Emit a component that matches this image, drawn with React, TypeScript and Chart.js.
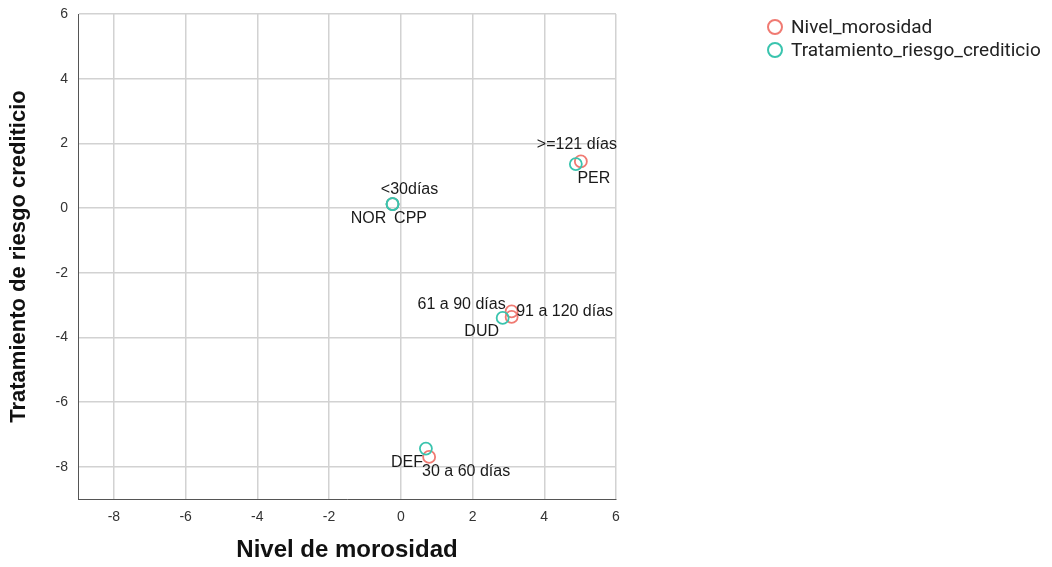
import React, { useEffect, useRef } from 'react';
import { Chart, registerables } from 'chart.js';

Chart.register(...registerables);

// ---- data ----
const seriesNames = ['Nivel_morosidad', 'Tratamiento_riesgo_crediticio'];

const nivelCategories = ['<30días', '30 a 60 días', '61 a 90 días', '91 a 120 días', '>=121 días'];
const nivelX = [-0.23, 0.79, 3.09, 3.09, 5.02];
const nivelY = [0.12, -7.7, -3.2, -3.37, 1.44];

const tratCategories = ['NOR', 'CPP', 'DEF', 'DUD', 'PER'];
const tratX = [-0.23, -0.23, 0.7, 2.84, 4.88];
const tratY = [0.12, 0.12, -7.44, -3.4, 1.36];

const xTicks = [-8, -6, -4, -2, 0, 2, 4, 6];
const yTicks = [-8, -6, -4, -2, 0, 2, 4, 6];

// ---- label layout (pixel offsets from each point) ----
const nivelLabelOffsets = [
  [17, -15],
  [37, 15],
  [-50, -7],
  [53, -5],
  [-4, -17],
];
const tratLabelOffsets = [
  [-24, 14],
  [18, 14],
  [-19, 14],
  [-21, 14],
  [18, 15],
];

const RED = 'rgb(240,122,114)';
const TEAL = 'rgb(58,196,174)';

const pointLabelPlugin = {
  id: 'pointLabels',
  afterDatasetsDraw(chart: any) {
    const ctx = chart.ctx;
    ctx.save();
    ctx.font = '16px "Liberation Sans", Arial, sans-serif';
    ctx.fillStyle = '#1a1a1a';
    ctx.textAlign = 'center';
    ctx.textBaseline = 'middle';
    const sets = [
      { labels: nivelCategories, offs: nivelLabelOffsets },
      { labels: tratCategories, offs: tratLabelOffsets },
    ];
    sets.forEach((s, di) => {
      const meta = chart.getDatasetMeta(di);
      meta.data.forEach((el: any, i: number) => {
        const [dx, dy] = s.offs[i];
        ctx.fillText(s.labels[i], el.x + dx, el.y + dy);
      });
    });
    ctx.restore();
  },
};

const customLegendPlugin = {
  id: 'customLegend',
  afterDraw(chart: any) {
    const ctx = chart.ctx;
    ctx.save();
    const colors = [RED, TEAL];
    const x0 = chart.chartArea.right + 159;
    seriesNames.forEach((name, i) => {
      const y = 27 + i * 23;
      ctx.beginPath();
      ctx.arc(x0, y, 7, 0, Math.PI * 2);
      ctx.strokeStyle = colors[i];
      ctx.lineWidth = 2;
      ctx.stroke();
      ctx.font = '19px Roboto, "Liberation Sans", sans-serif';
      ctx.fillStyle = '#222';
      ctx.textAlign = 'left';
      ctx.textBaseline = 'middle';
      ctx.fillText(name, x0 + 16, y + 1);
    });
    ctx.restore();
  },
};

export default function App() {
  const ref = useRef<HTMLCanvasElement>(null);

  useEffect(() => {
    document.body.style.margin = '0';
    const canvas = ref.current;
    if (!canvas) return;

    const tickFont = { family: '"Liberation Sans", Arial, sans-serif', size: 14 };
    const family = '"Liberation Sans", Arial, sans-serif';

    const chart = new Chart(canvas, {
      type: 'scatter',
      data: {
        datasets: [
          {
            label: seriesNames[0],
            data: nivelX.map((x, i) => ({ x, y: nivelY[i] })),
            borderColor: RED,
            backgroundColor: 'rgba(0,0,0,0)',
            pointRadius: 6,
            pointBorderWidth: 1.8,
            order: 1,
          },
          {
            label: seriesNames[1],
            data: tratX.map((x, i) => ({ x, y: tratY[i] })),
            borderColor: TEAL,
            backgroundColor: 'rgba(0,0,0,0)',
            pointRadius: 6,
            pointBorderWidth: 1.8,
            order: 0,
          },
        ],
      },
      options: {
        responsive: true,
        maintainAspectRatio: false,
        animation: false,
        layout: { padding: { top: 14, right: 436, left: 0, bottom: 0 } },
        plugins: {
          legend: { display: false },
          tooltip: { enabled: false },
        },
        scales: {
          x: {
            type: 'linear',
            min: -9,
            max: 6,
            afterBuildTicks: (scale: any) => {
              scale.ticks = xTicks.map((v) => ({ value: v }));
            },
            afterFit: (scale: any) => {
              scale.height = 68;
              scale.paddingLeft = 0;
              scale.paddingRight = 0;
            },
            ticks: { font: tickFont, color: '#333', padding: 10 },
            grid: { color: '#d2d2d2', lineWidth: 1.5, drawTicks: false },
            border: { color: '#555', width: 1 },
            title: {
              display: true,
              text: 'Nivel de morosidad',
              font: { family, size: 24, weight: 'bold' },
              color: '#111',
              padding: { top: 0, bottom: 2 },
            },
          },
          y: {
            type: 'linear',
            min: -9,
            max: 6,
            afterBuildTicks: (scale: any) => {
              scale.ticks = yTicks.map((v) => ({ value: v }));
            },
            afterFit: (scale: any) => {
              scale.width = 78;
              scale.paddingTop = 0;
              scale.paddingBottom = 0;
            },
            ticks: { font: tickFont, color: '#333', padding: 10 },
            grid: { color: '#d2d2d2', lineWidth: 1.5, drawTicks: false },
            border: { color: '#555', width: 1 },
            title: {
              display: true,
              text: 'Tratamiento de riesgo crediticio',
              font: { family, size: 22, weight: 'bold' },
              color: '#111',
              padding: { top: 6, bottom: 0 },
            },
          },
        },
      },
      plugins: [pointLabelPlugin, customLegendPlugin],
    });

    return () => chart.destroy();
  }, []);

  return (
    <div style={{ position: 'relative', width: 1052, height: 567 }}>
      <canvas ref={ref} />
    </div>
  );
}
